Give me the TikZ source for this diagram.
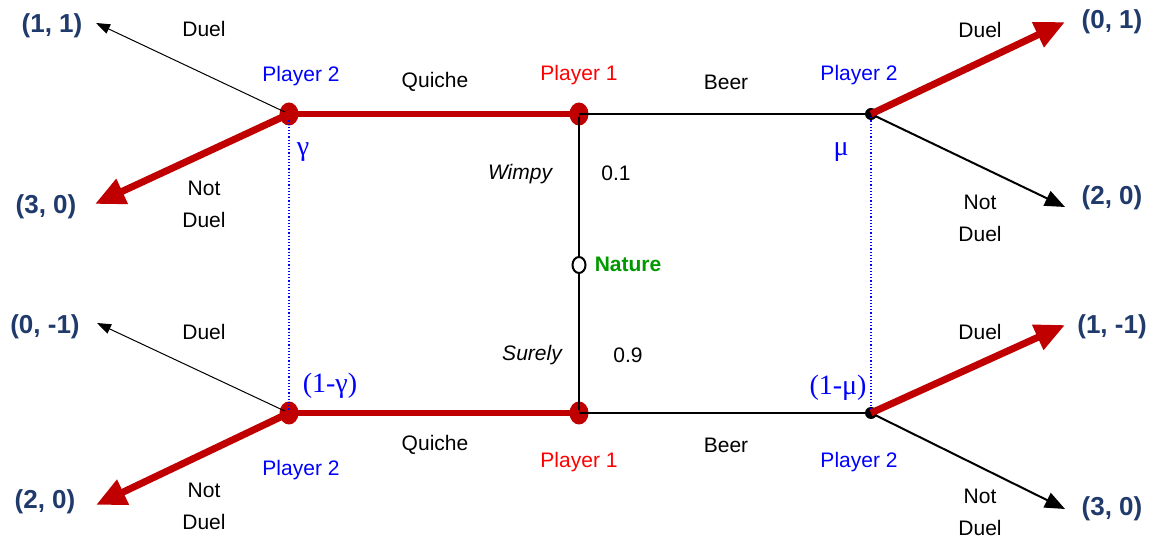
\documentclass[tikz,border=0pt]{standalone}
\usepackage{fontspec}
\setmainfont{Liberation Sans}
\newfontfamily\greekfont{Liberation Serif}
\usetikzlibrary{positioning, arrows.meta, shapes.geometric}
\definecolor{dred}{HTML}{C00000}
\definecolor{pblue}{HTML}{0000FF}
\definecolor{navy}{HTML}{1F3A6B}
\definecolor{ngreen}{HTML}{009A00}

\begin{document}
\begin{tikzpicture}[x=0.5pt, y=-0.5pt, on grid,
  every node/.style={font=\fontsize{10.5}{16}\selectfont, align=center, inner sep=1pt},
  p1dot/.style={ellipse, fill=dred, minimum width=9.5pt, minimum height=11.5pt, inner sep=0pt},
  p2pt/.style={circle, fill=black, minimum size=6pt, inner sep=0pt},
  chance/.style={ellipse, draw, line width=1pt, fill=white, minimum width=6.5pt, minimum height=8pt, inner sep=0pt},
  pay/.style={font=\bfseries\fontsize{13}{15}\selectfont, text=navy},
  who1/.style={text=red},
  who2/.style={text=pblue},
  belief/.style={text=pblue, font=\greekfont\fontsize{14}{16}\selectfont},
  move/.style={line width=1pt},
  lead/.style={line width=0.5pt, -{Triangle[length=7pt, width=5pt]}},
  lead2/.style={line width=1pt, -{Triangle[length=10pt, width=8pt]}},
  best/.style={line width=3.5pt, dred, -{Triangle[length=15pt, width=13pt]}},
  info/.style={pblue, line width=0.6pt, densely dotted}]
\useasboundingbox (0,0) rectangle (1155,544);

\node[p1dot] (p2q) at (289,114) {};
\node[p1dot, right=145pt of p2q] (p1w) {};
\node[p2pt, right=146pt of p1w] (p2b) {};
\node[chance, below=75.5pt of p1w] (nat) {};
\node[p1dot, below=74pt of nat] (p1s) {};
\node[p1dot, left=145pt of p1s] (p2qs) {};
\node[p2pt, right=146pt of p1s] (p2bs) {};

% payoffs
\node[pay] (u11) at (52,26) {(1, 1)};
\node[pay] (u30) at (46,207) {(3, 0)};
\node[pay] (u01) at (1112,22) {(0, 1)};
\node[pay] (u20) at (1112,198) {(2, 0)};
\node[pay] (u0m) at (45,327) {(0, -1)};
\node[pay] (u20s) at (45,502) {(2, 0)};
\node[pay] (u1m) at (1112,327) {(1, -1)};
\node[pay] (u30s) at (1112,509) {(3, 0)};

\coordinate (t11) at (96,23);
\coordinate (t30) at (95,204);
\coordinate (t01) at (1065,22);
\coordinate (t20) at (1065,207);
\coordinate (t0m) at (97,323);
\coordinate (t20s) at (96,505);
\coordinate (t1m) at (1065,325);
\coordinate (t30s) at (1065,509);

% labels
\node (d1) at (204,29) {Duel};
\node (n1) at (204,204) {Not\\Duel};
\node (d2) at (980,30) {Duel};
\node (n2) at (980,218) {Not\\Duel};
\node (d3) at (204,332) {Duel};
\node (n3) at (204,506) {Not\\Duel};
\node (d4) at (980,332) {Duel};
\node (n4) at (980,512) {Not\\Duel};
\node (qw) at (435,82) {Quiche};
\node (bw) at (726,82) {Beer};
\node (qs) at (435,445) {Quiche};
\node (bs) at (726,445) {Beer};
\node[who2] (lq) at (301,76) {Player 2};
\node[who1] (lw) at (579,75) {Player 1};
\node[who2] (lb) at (859,75) {Player 2};
\node[who2] (lqs) at (301,470) {Player 2};
\node[who1] (ls) at (579,462) {Player 1};
\node[who2] (lbs) at (859,462) {Player 2};
\node[belief] (g) at (303,152) {γ};
\node[belief] (m) at (841,152) {μ};
\node[belief] (g1) at (330,386) {(1-γ)};
\node[belief] (m1) at (838,388) {(1-μ)};
\node[font=\itshape\fontsize{10.5}{16}\selectfont] (wim) at (520,174) {Wimpy};
\node[font=\itshape\fontsize{10.5}{16}\selectfont] (sur) at (532,355) {Surely};
\node (pw) at (616,173) {0.1};
\node (ps) at (628,355) {0.9};
\node[text=ngreen, font=\bfseries\fontsize{10.5}{16}\selectfont] (nl) at (628,264) {Nature};

\draw[info] (p2q.center) -- (p2qs.center) (p2b.center) -- (p2bs.center);
\draw[move] (p1w.center) -- (p2b.center) (p1w.center) -- (nat) -- (p1s.center) -- (p2bs.center);
\draw
    (p2q.center) edge[lead] (t11)
    (p2qs.center) edge[lead] (t0m)
    (p2b.center) edge[lead2] (t20)
    (p2bs.center) edge[lead2] (t30s)
    ;
\draw[dred, line width=3pt] (p2q.center) -- (p1w.center) (p2qs.center) -- (p1s.center);
\draw
    (p2q.center) edge[best] (t30)
    (p2qs.center) edge[best] (t20s)
    (p2b.center) edge[best] (t01)
    (p2bs.center) edge[best] (t1m)
    ;
\end{tikzpicture}
\end{document}
